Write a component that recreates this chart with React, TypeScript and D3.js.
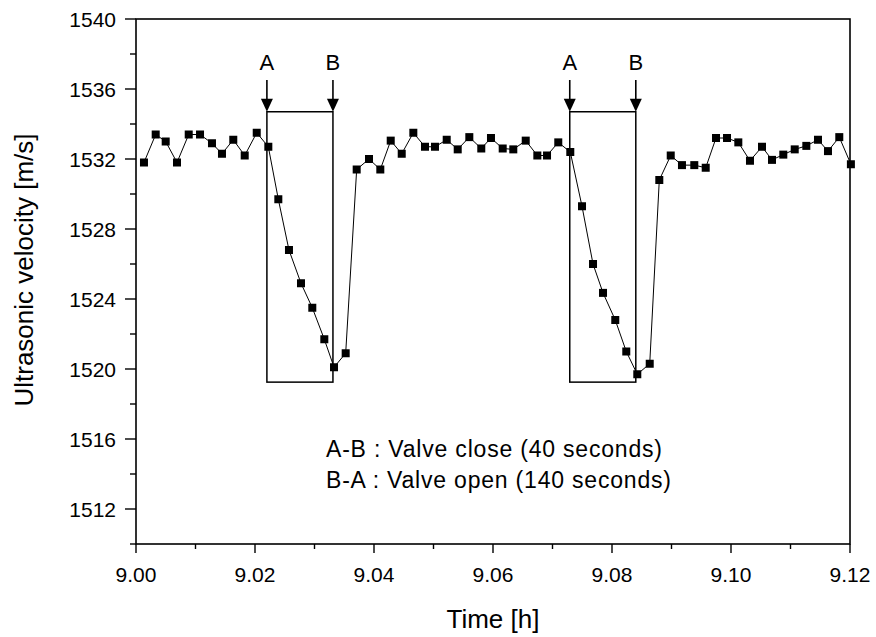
import React from "react";
import * as d3 from "d3";

const times: number[] = [
  9.00134, 9.00331, 9.00499, 9.00689, 9.00886, 9.01076, 9.01277, 9.01445, 9.01635, 9.01827,
  9.02029, 9.02224, 9.02392, 9.02571, 9.02773, 9.02963, 9.03165, 9.03328, 9.03524, 9.03709,
  9.03916, 9.04106, 9.04281, 9.04466, 9.04661, 9.04857, 9.05025, 9.05222, 9.05407, 9.05602,
  9.05803, 9.05966, 9.06163, 9.06341, 9.0655, 9.06745, 9.06908, 9.07097, 9.07299, 9.07496,
  9.07681, 9.07849, 9.08055, 9.0824, 9.08425, 9.08634, 9.08795, 9.08987, 9.09176, 9.09383,
  9.09575, 9.09748, 9.09933, 9.10123, 9.10319, 9.10521, 9.10689, 9.10879, 9.11071, 9.11266,
  9.11462, 9.1163, 9.1182, 9.12015,
];

const velocity: number[] = [
  1531.8, 1533.4, 1533.0, 1531.8, 1533.4, 1533.4, 1532.9, 1532.3, 1533.1, 1532.2,
  1533.5, 1532.7, 1529.7, 1526.8, 1524.9, 1523.5, 1521.7, 1520.1, 1520.9, 1531.4,
  1532.0, 1531.4, 1533.05, 1532.3, 1533.5, 1532.7, 1532.7, 1533.1, 1532.55, 1533.25,
  1532.6, 1533.2, 1532.6, 1532.55, 1533.05, 1532.2, 1532.2, 1532.95, 1532.4, 1529.3,
  1526.0, 1524.35, 1522.8, 1521.0, 1519.7, 1520.3, 1530.8, 1532.2, 1531.65, 1531.65,
  1531.5, 1533.2, 1533.2, 1532.95, 1531.9, 1532.7, 1531.95, 1532.25, 1532.55, 1532.75,
  1533.1, 1532.45, 1533.25, 1531.7,
];

const xMajorTicks = [9.0, 9.02, 9.04, 9.06, 9.08, 9.1, 9.12];
const xMinorTicks = [9.01, 9.03, 9.05, 9.07, 9.09, 9.11];
const yMajorTicks = [1512, 1516, 1520, 1524, 1528, 1532, 1536, 1540];
const yMinorTicks = [1510, 1514, 1518, 1522, 1526, 1530, 1534, 1538];

// Valve windows: A (close start) and B (open start)
const windowStarts = [9.022, 9.0729];
const windowEnds = [9.0331, 9.084];
const boxTop = 1534.7;
const boxBottom = 1519.25;

const noteLines = ["A-B : Valve close (40 seconds)", "B-A : Valve open (140 seconds)"];

const FONT = "'Liberation Sans', Arial, Helvetica, sans-serif";

export default function App() {
  const W = 876, H = 637;
  const left = 136, right = 850, top = 19, bottom = 544;
  const x = d3.scaleLinear().domain([9.0, 9.12]).range([left, right]);
  const y = d3.scaleLinear().domain([1510, 1540]).range([bottom, top]);

  const line = d3
    .line<number>()
    .x((_, i) => x(times[i]))
    .y((d) => y(d));

  const ms = 8;

  const arrow = (cx: number, label: string, key: string) => {
    const tipY = y(boxTop);
    return (
      <g key={key}>
        <text x={cx} y={70} fontSize={22} textAnchor="middle" fontFamily={FONT}>
          {label}
        </text>
        <line x1={cx} x2={cx} y1={80} y2={tipY - 8} stroke="#000" strokeWidth={1.6} />
        <path d={`M${cx - 6},${tipY - 13} L${cx + 6},${tipY - 13} L${cx},${tipY} Z`} fill="#000" />
      </g>
    );
  };

  return (
    <div style={{ position: "fixed", left: 0, top: 0 }}>
      <svg width={W} height={H} style={{ display: "block", background: "#fff" }}>
        {/* frame */}
        <rect x={left} y={top} width={right - left} height={bottom - top} fill="none" stroke="#000" strokeWidth={1.6} />
        {/* x ticks */}
        {xMajorTicks.map((t) => (
          <g key={"xM" + t}>
            <line x1={x(t)} x2={x(t)} y1={bottom} y2={bottom + 9} stroke="#000" strokeWidth={1.4} />
            <text x={x(t)} y={582} fontSize={21} textAnchor="middle" fontFamily={FONT}>
              {t.toFixed(2)}
            </text>
          </g>
        ))}
        {xMinorTicks.map((t) => (
          <line key={"xm" + t} x1={x(t)} x2={x(t)} y1={bottom} y2={bottom + 5} stroke="#000" strokeWidth={1.4} />
        ))}
        {/* y ticks */}
        {yMajorTicks.map((v) => (
          <g key={"yM" + v}>
            <line x1={left - 11} x2={left} y1={y(v)} y2={y(v)} stroke="#000" strokeWidth={1.4} />
            <text x={116} y={y(v) + 7.5} fontSize={21} textAnchor="end" fontFamily={FONT}>
              {v}
            </text>
          </g>
        ))}
        {yMinorTicks.map((v) => (
          <line key={"ym" + v} x1={left - 6} x2={left} y1={y(v)} y2={y(v)} stroke="#000" strokeWidth={1.4} />
        ))}
        {/* axis titles */}
        <text x={(left + right) / 2} y={628} fontSize={26} textAnchor="middle" fontFamily={FONT}>
          Time [h]
        </text>
        <text
          transform={`translate(33, 270) rotate(-90)`}
          fontSize={26}
          textAnchor="middle"
          fontFamily={FONT}
        >
          Ultrasonic velocity [m/s]
        </text>
        {/* valve boxes */}
        {windowStarts.map((s, i) => (
          <rect
            key={"box" + i}
            x={x(s)}
            y={y(boxTop)}
            width={x(windowEnds[i]) - x(s)}
            height={y(boxBottom) - y(boxTop)}
            fill="none"
            stroke="#000"
            strokeWidth={1.5}
          />
        ))}
        {windowStarts.map((s, i) => arrow(x(s), "A", "a" + i))}
        {windowEnds.map((s, i) => arrow(x(s), "B", "b" + i))}
        {/* data */}
        <path d={line(velocity) || ""} fill="none" stroke="#000" strokeWidth={1} />
        {velocity.map((v, i) => (
          <rect key={"p" + i} x={x(times[i]) - ms / 2} y={y(v) - ms / 2} width={ms} height={ms} fill="#000" />
        ))}
        {/* note */}
        {noteLines.map((t, i) => (
          <text key={"n" + i} x={326} y={457 + i * 31} fontSize={23} letterSpacing={0.8} fontFamily={FONT}>
            {t}
          </text>
        ))}
      </svg>
    </div>
  );
}
